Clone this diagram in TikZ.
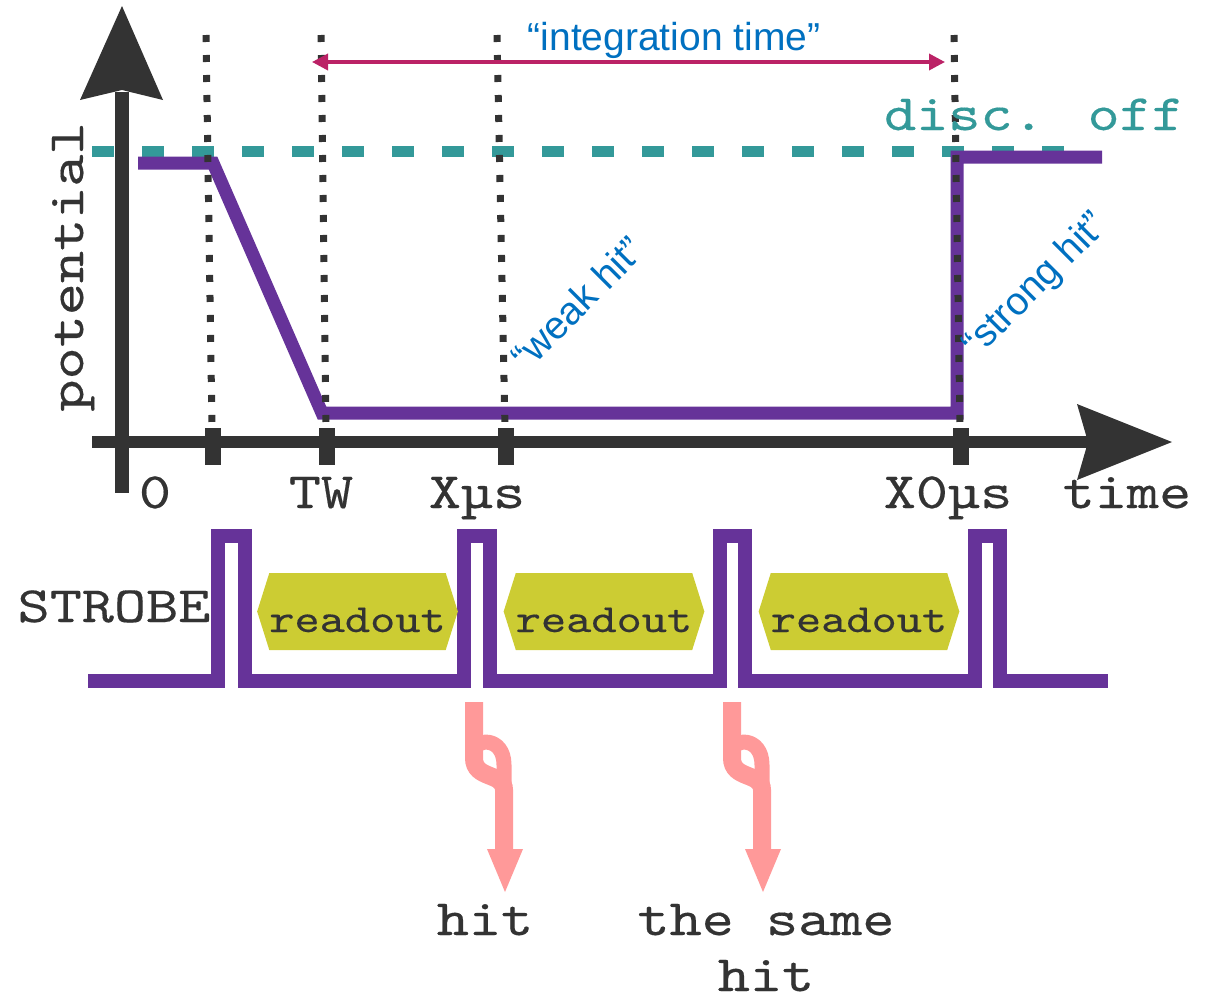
\documentclass[tikz,border=0pt]{standalone}
\usepackage{fontspec}
\setsansfont{Liberation Sans}
\newfontfamily\cour{lmmono10-regular.otf}[FakeStretch=1.2,FakeBold=0.3]
\usetikzlibrary{arrows.meta,shapes.symbols}
\definecolor{ink}{HTML}{333333}
\definecolor{purp}{HTML}{663399}
\definecolor{tealc}{HTML}{339999}
\definecolor{magc}{HTML}{BB2266}
\definecolor{bluec}{HTML}{0070C0}
\definecolor{olivec}{HTML}{CCCC33}
\definecolor{pinkc}{HTML}{FF9999}
\begin{document}
\begin{tikzpicture}[x=1pt,y=-1pt,
  tealdash/.style={draw=tealc, line width=11pt, dash pattern=on 22pt off 28pt},
  potline/.style={draw=purp, line width=13pt, line join=miter},
  strobeline/.style={draw=purp, line width=14pt, line join=miter},
  dotline/.style={draw=ink, line width=7pt, dash pattern=on 7pt off 13pt},
  axisline/.style={draw=ink, line width=14pt},
  tickmark/.style={draw=ink, line width=16pt},
  magline/.style={draw=magc, line width=3.5pt},
  lbl/.style={inner sep=0pt, anchor=base, text=ink, font=\cour\fontsize{51pt}{51pt}\selectfont},
  bluelbl/.style={inner sep=0pt, text=bluec, font=\sffamily\fontsize{39pt}{39pt}\selectfont},
  readbox/.style={signal, signal to=east and west, signal pointer angle=145, fill=olivec,
    minimum width=199pt, minimum height=77pt, inner sep=0pt, text height=41pt, text depth=0pt,
    text=ink, font=\cour\fontsize{40pt}{40pt}\selectfont},
  pinkband/.style={draw=pinkc, line width=18pt},
]
\useasboundingbox (0,0) rectangle (1211,999);

% discriminator threshold
\draw[tealdash] (92,151) -- (1065,151);
% potential curve
\draw[potline] (138,163) -- (213,163) -- (322,413) -- (957,413) -- (957,157) -- (1102,157);
% dotted guide lines
\foreach \xa/\xb in {206/212, 321/326, 497/505, 954/960}
  \draw[dotline] (\xa,35) -- (\xb,428);

% axes
\draw[axisline] (122,92) -- (122,493);
\fill[ink] (122,6) -- (163,100) -- (122,90) -- (80,100) -- cycle;
\draw[axisline, line width=12pt] (92,442) -- (1090,442);
\fill[ink] (1172,442) -- (1077,404) -- (1088,442) -- (1077,480) -- cycle;
\foreach \x in {213,327,506,961}
  \draw[tickmark] (\x,428) -- (\x,465);

% integration time arrow
\coordinate (ita) at (312,62);
\coordinate (itb) at (945,62);
\draw[magline, {Triangle[length=16pt,width=16pt]}-{Triangle[length=16pt,width=16pt]}] (ita) -- (itb);
\node[bluelbl, anchor=base] (intt) at (674,50) {“integration time”};
\node[bluelbl, rotate=45] (weak) at (577,303) {“weak hit”};
\node[bluelbl, rotate=45] (strong) at (1036,286) {“strong hit”};

% labels
\node[lbl, text=tealc] (disc) at (1034,130) {disc. off};
\node[lbl, rotate=90] (pot) at (83,267) {potential};
\node[lbl] (l0) at (155,508) {0};
\node[lbl] (ltw) at (321,508) {TW};
\node[lbl] (lx) at (477,508) {Xµs};
\node[lbl] (lx0) at (948,508) {X0µs};
\node[lbl] (ltime) at (1127,508) {time};
\node[lbl] (strobe) at (114,622) {STROBE};

% strobe signal
\draw[strobeline] (88,681) -- (218,681) -- (218,536) -- (245,536) -- (245,681)
  -- (464,681) -- (464,536) -- (490,536) -- (490,681)
  -- (720,681) -- (720,536) -- (745,536) -- (745,681)
  -- (975,681) -- (975,536) -- (1000,536) -- (1000,681) -- (1108,681);

% readout boxes
\node[readbox] (ro1) at (357.5,611.5) {readout};
\node[readbox] (ro2) at (604,611.5) {readout};
\node[readbox] (ro3) at (859,611.5) {readout};

% hit arrows
\foreach \d in {0,258}{
  \draw[pinkband] (474+\d,702) -- (474+\d,758) .. controls (474+\d,780) and (504+\d,772) .. (504+\d,790) -- (504+\d,850);
  \draw[pinkband, line width=15pt] (474+\d,752) .. controls (474+\d,738) and (504+\d,736) .. (504+\d,765) -- (504+\d,800);
  \fill[pinkc] (487+\d,849) -- (523+\d,849) -- (505+\d,892) -- cycle;
}
\node[lbl] (hit1) at (485,935) {hit};
\node[lbl] (same) at (766,935) {the same};
\node[lbl] (hit2) at (766,991) {hit};
\end{tikzpicture}
\end{document}
